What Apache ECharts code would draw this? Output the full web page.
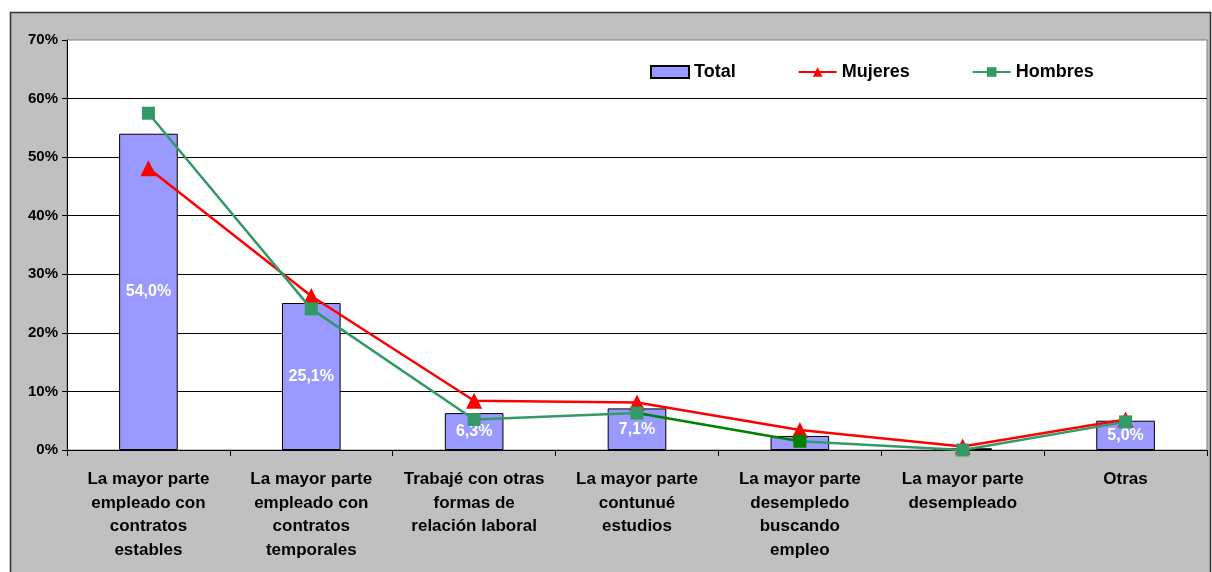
<!DOCTYPE html>
<html>
<head>
<meta charset="utf-8">
<script src="https://cdn.jsdelivr.net/npm/echarts@6/dist/echarts.min.js"></script>
<style>
html,body{margin:0;padding:0;background:#fff;}
#chart{width:1212px;height:572px;}
</style>
</head>
<body>
<div id="chart"></div>
<script>
var categories = [
  'La mayor parte\nempleado con\ncontratos\nestables',
  'La mayor parte\nempleado con\ncontratos\ntemporales',
  'Trabajé con otras\nformas de\nrelación laboral',
  'La mayor parte\ncontunué\nestudios',
  'La mayor parte\ndesempledo\nbuscando\nempleo',
  'La mayor parte\ndesempleado',
  'Otras'
];
var totalValues = [54.0, 25.1, 6.3, 7.1, 2.4, 0.3, 5.0];
var mujeresValues = [48.1, 26.3, 8.4, 8.1, 3.4, 0.6, 5.2];
var hombresValues = [57.5, 24.1, 5.2, 6.3, 1.5, 0.0, 4.8];
var totalLabelShown = [true, true, true, true, false, false, true];
var yTicks = [0, 10, 20, 30, 40, 50, 60, 70];

var chart = echarts.init(document.getElementById('chart'));
var font = 'Liberation Sans, Arial, sans-serif';

var totalData = totalValues.map(function (v, i) {
  return { value: v, label: { show: totalLabelShown[i] } };
});
var hombresData = hombresValues.map(function (v, i) {
  return i === 4 ? { value: v, itemStyle: { color: '#008000' } } : { value: v, itemStyle: { color: '#339966' } };
});

chart.setOption({
  animation: false,
  backgroundColor: '#ffffff',
  textStyle: { fontFamily: font },
  graphic: [{
    type: 'rect',
    z: -10,
    silent: true,
    shape: { x: 10.5, y: 12.5, width: 1200, height: 570 },
    style: { fill: '#c0c0c0', stroke: '#333333', lineWidth: 1.5 }
  }],
  grid: {
    left: 67, right: 5, top: 40, bottom: 122,
    show: true, backgroundColor: '#ffffff', borderColor: '#808080', borderWidth: 1
  },
  visualMap: {
    show: false,
    type: 'piecewise',
    seriesIndex: 2,
    dimension: 0,
    pieces: [
      { lte: 3, color: '#339966' },
      { gt: 3, lte: 4, color: '#008000' },
      { gt: 4, color: '#339966' }
    ]
  },
  legend: {
    top: 58, left: 645,
    itemGap: 62,
    itemWidth: 38, itemHeight: 12,
    textStyle: { fontFamily: font, fontWeight: 'bold', fontSize: 18, color: '#000' },
    data: [
      { name: 'Total', icon: 'rect' },
      { name: 'Mujeres' },
      { name: 'Hombres', itemStyle: { color: '#339966' }, lineStyle: { color: '#339966' } }
    ]
  },
  xAxis: {
    type: 'category',
    data: categories,
    axisLine: { lineStyle: { color: '#000', width: 1 } },
    axisTick: { show: true, alignWithLabel: false, length: 6, lineStyle: { color: '#000' } },
    axisLabel: {
      interval: 0, margin: 18,
      fontFamily: font, fontWeight: 'bold', fontSize: 17, color: '#000',
      lineHeight: 23.5, align: 'center'
    }
  },
  yAxis: {
    type: 'value',
    min: 0, max: 70, interval: 10,
    axisLine: { show: true, lineStyle: { color: '#000', width: 1 } },
    axisTick: { show: true, length: 5, lineStyle: { color: '#000' } },
    splitLine: { show: true, showMaxLine: false, lineStyle: { color: '#000', width: 1 } },
    axisLabel: {
      margin: 9,
      fontFamily: font, fontWeight: 'bold', fontSize: 15, color: '#000',
      formatter: function (v) { return yTicks.indexOf(v) >= 0 ? v + '%' : ''; }
    }
  },
  series: [
    {
      name: 'Total',
      type: 'bar',
      data: totalData,
      barWidth: '36%',
      itemStyle: { color: '#9999ff', borderColor: '#000', borderWidth: 1 },
      label: {
        show: true, position: 'inside',
        fontFamily: font, fontWeight: 'bold', fontSize: 16, color: '#ffffff',
        formatter: function (p) { return p.value.toFixed(1).replace('.', ',') + '%'; }
      },
      z: 2
    },
    {
      name: 'Mujeres',
      type: 'line',
      data: mujeresValues,
      symbol: 'triangle',
      symbolSize: 16,
      itemStyle: { color: '#ff0000' },
      lineStyle: { color: '#ff0000', width: 2.5 },
      z: 3
    },
    {
      name: 'Hombres',
      type: 'line',
      data: hombresData,
      symbol: 'rect',
      symbolSize: 13,
      lineStyle: { width: 2.5 },
      z: 4
    }
  ]
});
</script>
</body>
</html>
